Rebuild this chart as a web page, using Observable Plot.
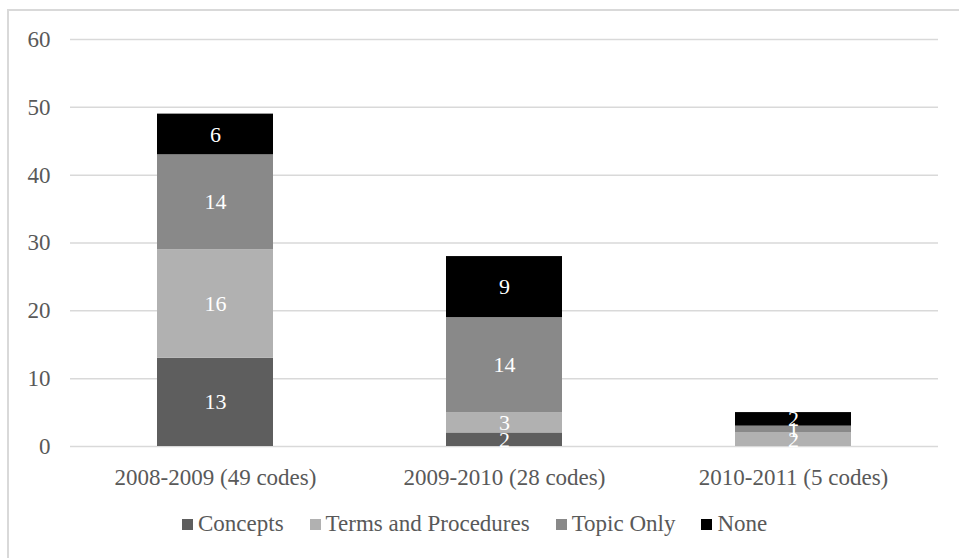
<!DOCTYPE html>
<html>
<head>
<meta charset="utf-8">
<script src="https://cdn.jsdelivr.net/npm/d3@7"></script>
<script src="https://cdn.jsdelivr.net/npm/@observablehq/plot@0.6"></script>
<style>
  html, body { margin: 0; padding: 0; background: #fff; }
  body { width: 959px; height: 558px; overflow: hidden; position: relative; font-family: "Liberation Serif", "Times New Roman", serif; }
  #frame { position: absolute; left: 7px; top: 9px; width: 1000px; height: 600px; border: 2px solid #d9d9d9; box-sizing: border-box; }
  #chart { position: absolute; left: 0; top: 0; }
  #legend { position: absolute; left: 182px; top: 511px; display: flex; justify-content: flex-start; font-size: 23px; color: #595959; white-space: nowrap; }
  .item { display: flex; align-items: center; margin-right: 26px; }
  .sw { width: 11px; height: 11px; margin-right: 5px; }
</style>
</head>
<body>
<div id="frame"></div>
<div id="chart"></div>
<div id="legend"></div>
<script>
const years = ["2008-2009 (49 codes)", "2009-2010 (28 codes)", "2010-2011 (5 codes)"];
const types = ["Concepts", "Terms and Procedures", "Topic Only", "None"];
const concepts = [13, 2, 0];
const termsAndProcedures = [16, 3, 2];
const topicOnly = [14, 14, 1];
const none = [6, 9, 2];
const colors = ["#5e5e5e", "#b1b1b1", "#898989", "#000000"];
const yTicks = [0, 10, 20, 30, 40, 50, 60];

const series = [concepts, termsAndProcedures, topicOnly, none];
const data = [];
types.forEach((t, i) => years.forEach((y, j) => data.push({year: y, type: t, value: series[i][j]})));

const font = "'Liberation Serif', 'Times New Roman', serif";

const chart = Plot.plot({
  width: 959,
  height: 500,
  marginLeft: 70,
  marginRight: 21,
  marginTop: 39,
  marginBottom: 54,
  style: {fontFamily: font, fontSize: "23px", color: "#595959", background: "transparent"},
  x: {domain: years, paddingInner: 0.6, paddingOuter: 0.3, label: null},
  y: {domain: [0, 60], label: null},
  color: {domain: types, range: colors},
  marks: [
    Plot.ruleY(yTicks, {stroke: "#d9d9d9", strokeWidth: 1.5}),
    Plot.axisY(yTicks, {tickSize: 0, tickPadding: 20, fontSize: 23, fill: "#595959", label: null}),
    Plot.axisX({tickSize: 0, tickPadding: 22, fontSize: 23, fill: "#595959", label: null}),
    Plot.barY(data, Plot.stackY({x: "year", y: "value", fill: "type", z: "type", order: types})),
    Plot.text(data.filter(d => d.value > 0), Plot.stackY({x: "year", y: "value", z: "type", order: types, text: "value", fill: "white", fontSize: 22}))
  ]
});
document.getElementById("chart").appendChild(chart);

const legend = document.getElementById("legend");
types.forEach((t, i) => {
  const item = document.createElement("div");
  item.className = "item";
  const sw = document.createElement("span");
  sw.className = "sw";
  sw.style.background = colors[i];
  const lab = document.createElement("span");
  lab.textContent = t;
  item.appendChild(sw);
  item.appendChild(lab);
  legend.appendChild(item);
});
</script>
</body>
</html>
